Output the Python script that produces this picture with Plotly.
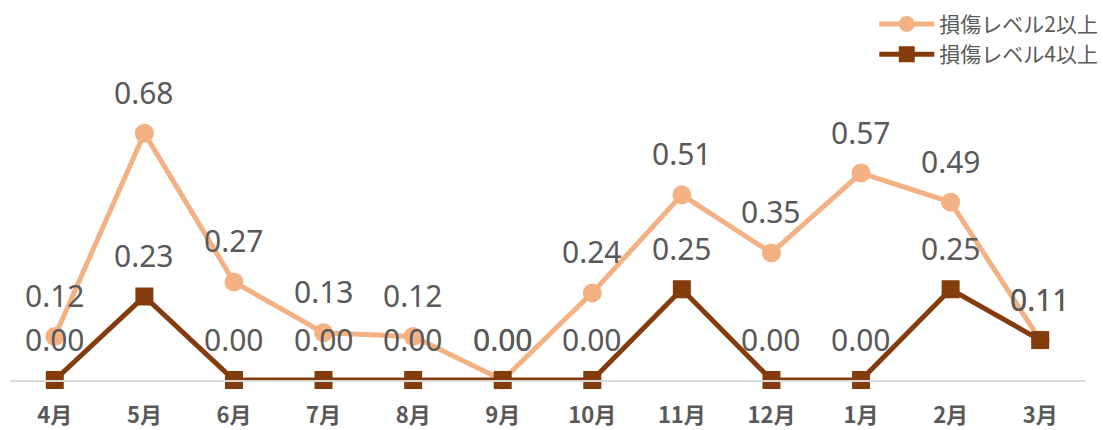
import plotly.graph_objects as go

months = ['4月', '5月', '6月', '7月', '8月', '9月', '10月', '11月', '12月', '1月', '2月', '3月']
level2 = [0.12, 0.68, 0.27, 0.13, 0.12, 0.00, 0.24, 0.51, 0.35, 0.57, 0.49, 0.11]
level4 = [0.00, 0.23, 0.00, 0.00, 0.00, 0.00, 0.00, 0.25, 0.00, 0.00, 0.25, 0.11]

label_font = dict(family='Noto Sans', size=30, color='#595959')

fig = go.Figure()

fig.add_trace(go.Scatter(
    x=months, y=level2, name='損傷レベル2以上',
    mode='lines+markers',
    line=dict(color='#F4B183', width=5),
    marker=dict(symbol='circle', size=19, color='#F4B183'),
    cliponaxis=False,
))

fig.add_trace(go.Scatter(
    x=months, y=level4, name='損傷レベル4以上',
    mode='lines+markers',
    line=dict(color='#843C0C', width=5),
    marker=dict(symbol='square', size=18, color='#843C0C'),
    cliponaxis=False,
))

# data labels above each point
for series in (level2, level4):
    for m, v in zip(months, series):
        fig.add_annotation(
            x=m, y=v, text=f'{v:.2f}', showarrow=False,
            yshift=41, font=label_font,
        )

fig.update_layout(
    width=1103, height=430,
    margin=dict(l=10, r=18, t=0, b=50, autoexpand=False),
    plot_bgcolor='white', paper_bgcolor='white',
    showlegend=True,
    legend=dict(
        x=1.017, y=0.99, xanchor='right', yanchor='top',
        font=dict(family='Noto Sans CJK JP', size=21, color='#595959'),
        bgcolor='rgba(0,0,0,0)', tracegroupgap=0, itemwidth=55,
    ),
    xaxis=dict(
        type='category', range=[-0.5, 11.5], automargin=False,
        showgrid=False, showline=True, linecolor='#D9D9D9', linewidth=1.5,
        ticks='', zeroline=False, ticklabelstandoff=15,
        tickfont=dict(family='Noto Sans CJK JP', size=22, color='#595959', weight='bold'),
    ),
    yaxis=dict(
        range=[0, 380 / 363], visible=False, showgrid=False, zeroline=False,
    ),
)

fig.write_html('out.html', config={'displayModeBar': False},
               post_script="document.body.style.margin='0';")
